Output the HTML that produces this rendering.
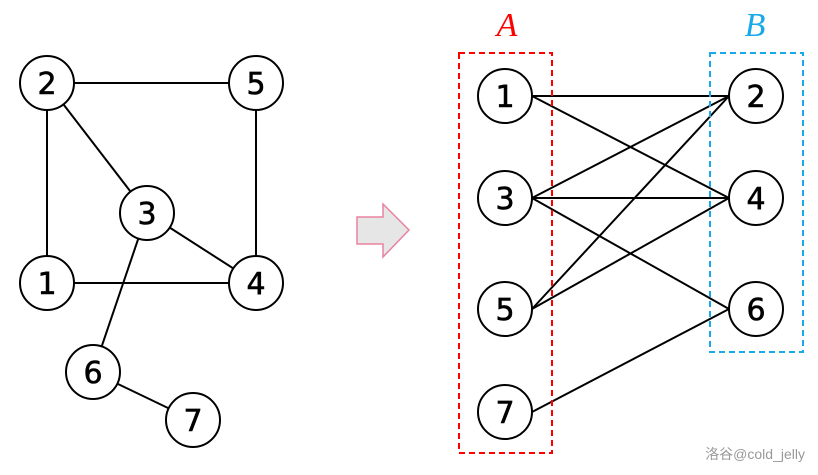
<!DOCTYPE html>
<html><head><meta charset="utf-8"><style>body{margin:0;background:#fff}svg{display:block}</style></head>
<body>
<svg width="818" height="475" viewBox="0 0 818 475" xmlns="http://www.w3.org/2000/svg">
<g stroke="#000" stroke-width="2" fill="none">
<line x1="47" y1="83" x2="256" y2="83"/>
<line x1="47" y1="83" x2="47" y2="283"/>
<line x1="47" y1="83" x2="147" y2="213"/>
<line x1="256" y1="83" x2="256" y2="283"/>
<line x1="47" y1="283" x2="256" y2="283"/>
<line x1="147" y1="213" x2="256" y2="283"/>
<line x1="147" y1="213" x2="93" y2="372"/>
<line x1="93" y1="372" x2="193" y2="420"/>
<line x1="532" y1="96" x2="729" y2="96"/>
<line x1="532" y1="96" x2="729" y2="198"/>
<line x1="532" y1="198" x2="729" y2="96"/>
<line x1="532" y1="198" x2="729" y2="198"/>
<line x1="532" y1="198" x2="729" y2="309"/>
<line x1="532" y1="309" x2="729" y2="96"/>
<line x1="532" y1="309" x2="729" y2="198"/>
<line x1="532" y1="412" x2="729" y2="309"/>
</g>
<rect x="459" y="53" width="93" height="400" fill="none" stroke="#f00" stroke-width="2" stroke-dasharray="6,4"/>
<rect x="710" y="53" width="93" height="299" fill="none" stroke="#1aa9e8" stroke-width="2" stroke-dasharray="6,4"/>
<polygon points="357,217 383,217 383,204 409,230 383,257 383,244 357,244" fill="#e6e6e6" stroke="#e8829f" stroke-width="1.5"/>
<text x="507" y="36" font-family="Liberation Serif,serif" font-style="italic" font-size="34" fill="#f00" text-anchor="middle">A</text>
<text x="755" y="36" font-family="Liberation Serif,serif" font-style="italic" font-size="34" fill="#1aa9e8" text-anchor="middle">B</text>
<g fill="#fff" stroke="#000" stroke-width="2">
<circle cx="47" cy="83" r="27"/><circle cx="256" cy="83" r="27"/><circle cx="147" cy="213" r="27"/>
<circle cx="47" cy="283" r="27"/><circle cx="256" cy="283" r="27"/><circle cx="93" cy="372" r="27"/><circle cx="193" cy="420" r="27"/>
<circle cx="505" cy="96" r="27"/><circle cx="505" cy="198" r="27"/><circle cx="505" cy="309" r="27"/><circle cx="505" cy="412" r="27"/>
<circle cx="756" cy="96" r="27"/><circle cx="756" cy="198" r="27"/><circle cx="756" cy="309" r="27"/>
</g>
<g font-family="DejaVu Sans,sans-serif" font-size="30" text-anchor="middle" fill="#000" stroke="#000" stroke-width="0.6">
<text x="47" y="94">2</text><text x="256" y="94">5</text><text x="147" y="224">3</text>
<text x="47" y="294">1</text><text x="256" y="294">4</text><text x="93" y="383">6</text><text x="193" y="431">7</text>
<text x="505" y="107">1</text><text x="505" y="209">3</text><text x="505" y="320">5</text><text x="505" y="423">7</text>
<text x="756" y="107">2</text><text x="756" y="209">4</text><text x="756" y="320">6</text>
</g>
<text x="805" y="459" font-family="Liberation Sans,Noto Sans CJK SC,sans-serif" font-size="14" fill="#999" text-anchor="end">洛谷@cold_jelly</text>
</svg>
</body></html>
